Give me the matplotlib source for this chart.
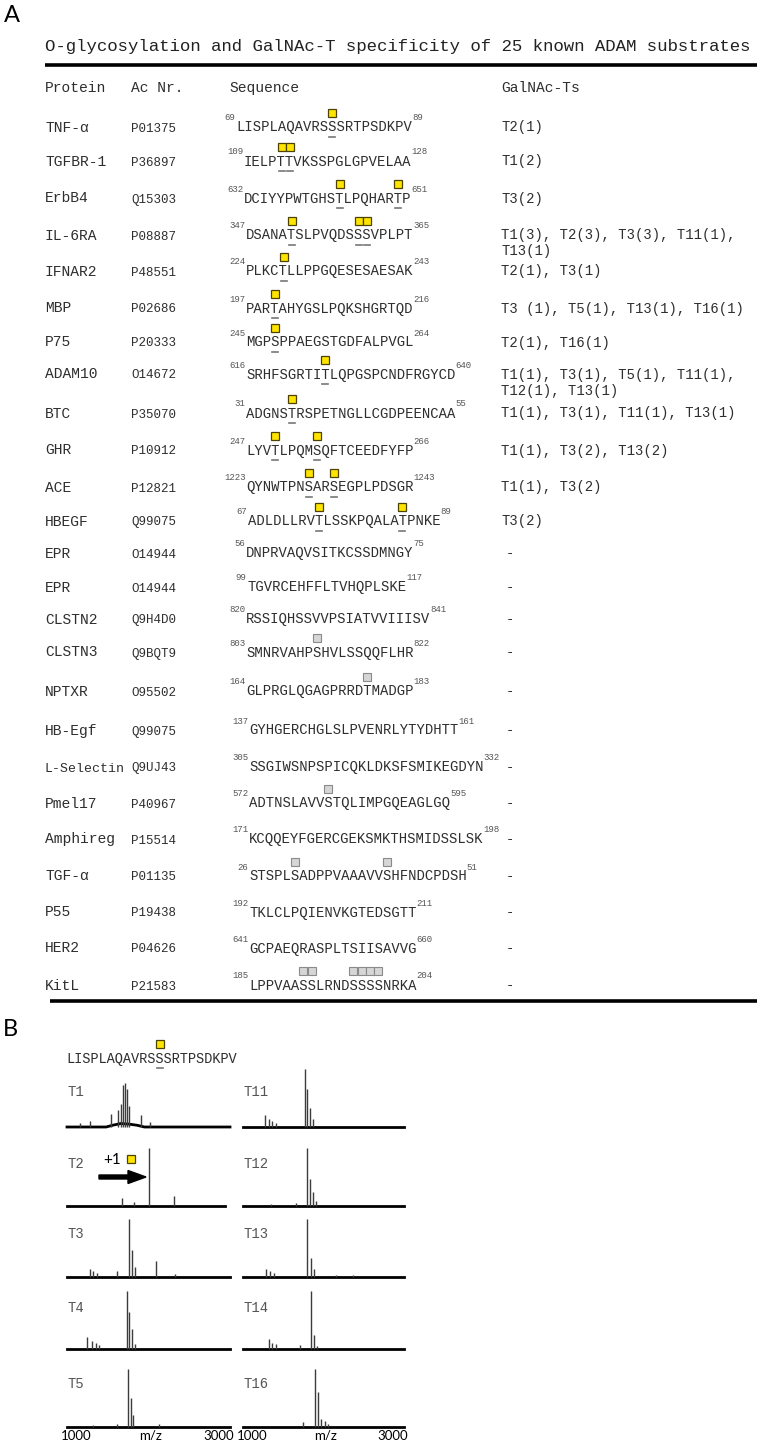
import matplotlib.pyplot as plt
from matplotlib.patches import Rectangle, FancyArrow

# ---- panel A data ----
proteins = ['TNF-α', 'TGFBR-1', 'ErbB4', 'IL-6RA', 'IFNAR2', 'MBP', 'P75', 'ADAM10',
            'BTC', 'GHR', 'ACE', 'HBEGF', 'EPR', 'EPR', 'CLSTN2', 'CLSTN3', 'NPTXR',
            'HB-Egf', 'L-Selectin', 'Pmel17', 'Amphireg', 'TGF-α', 'P55', 'HER2', 'KitL']
accessions = ['P01375', 'P36897', 'Q15303', 'P08887', 'P48551', 'P02686', 'P20333', 'O14672',
              'P35070', 'P10912', 'P12821', 'Q99075', 'O14944', 'O14944', 'Q9H4D0', 'Q9BQT9',
              'O95502', 'Q99075', 'Q9UJ43', 'P40967', 'P15514', 'P01135', 'P19438', 'P04626',
              'P21583']
sequences = ['LISPLAQAVRSSSRTPSDKPV', 'IELPTTVKSSPGLGPVELAA', 'DCIYYPWTGHSTLPQHARTP',
             'DSANATSLPVQDSSSVPLPT', 'PLKCTLLPPGQESESAESAK', 'PARTAHYGSLPQKSHGRTQD',
             'MGPSPPAEGSTGDFALPVGL', 'SRHFSGRTITLQPGSPCNDFRGYCD', 'ADGNSTRSPETNGLLCGDPEENCAA',
             'LYVTLPQMSQFTCEEDFYFP', 'QYNWTPNSARSEGPLPDSGR', 'ADLDLLRVTLSSKPQALATPNKE',
             'DNPRVAQVSITKCSSDMNGY', 'TGVRCEHFFLTVHQPLSKE', 'RSSIQHSSVVPSIATVVIIISV',
             'SMNRVAHPSHVLSSQQFLHR', 'GLPRGLQGAGPRRDTMADGP', 'GYHGERCHGLSLPVENRLYTYDHTT',
             'SSGIWSNPSPICQKLDKSFSMIKEGDYN', 'ADTNSLAVVSTQLIMPGQEAGLGQ',
             'KCQQEYFGERCGEKSMKTHSMIDSSLSK', 'STSPLSADPPVAAAVVSHFNDCPDSH',
             'TKLCLPQIENVKGTEDSGTT', 'GCPAEQRASPLTSIISAVVG', 'LPPVAASSLRNDSSSSNRKA']
seq_start = [69, 109, 632, 347, 224, 197, 245, 616, 31, 247, 1223, 67, 56, 99, 820, 803, 164,
             137, 305, 572, 171, 26, 192, 641, 185]
seq_end = [89, 128, 651, 365, 243, 216, 264, 640, 55, 266, 1243, 89, 75, 117, 841, 822, 183,
           161, 332, 595, 198, 51, 211, 660, 204]
# residues (index in the shown sequence) found O-glycosylated in vitro
found_sites = [[11], [4, 5], [11, 18], [5, 13, 14], [4], [3], [3], [9], [5], [3, 8], [7, 10],
               [8, 18], [], [], [], [], [], [], [], [], [], [], [], [], []]
# residues reported glycosylated but not found
other_sites = [[], [], [], [], [], [], [], [], [], [], [], [], [], [], [], [8], [14], [], [],
               [9], [], [5, 16], [], [], [6, 7, 12, 13, 14, 15]]
galnac_ts = ['T2(1)', 'T1(2)', 'T3(2)', 'T1(3), T2(3), T3(3), T11(1),\nT13(1)', 'T2(1), T3(1)',
             'T3 (1), T5(1), T13(1), T16(1)', 'T2(1), T16(1)',
             'T1(1), T3(1), T5(1), T11(1),\nT12(1), T13(1)', 'T1(1), T3(1), T11(1), T13(1)',
             'T1(1), T3(2), T13(2)', 'T1(1), T3(2)', 'T3(2)'] + ['-'] * 13

# ---- panel B data: MALDI spectra of the TNF-alpha peptide (m/z, % intensity) ----
b_peptide = 'LISPLAQAVRSSSRTPSDKPV'
b_site = 11
spec_names = ['T1', 'T2', 'T3', 'T4', 'T5', 'T11', 'T12', 'T13', 'T14', 'T16']
t1_mz = [1160, 1282, 1540, 1622, 1659, 1687, 1716, 1732, 1757, 1912, 2018]
t1_int = [7, 11, 23, 29, 40, 72, 76, 66, 37, 20, 9]
t1_base_mz = [1000, 1480, 1560, 1660, 1760, 1860, 1950, 3000]
t1_base = [0, 0, 3, 6, 5, 3, 0, 0]
t2_mz = [1678, 1822, 2003, 2313]
t2_int = [13, 7, 100, 17]
t3_mz = [1282, 1323, 1372, 1617, 1761, 1798, 1838, 2096, 2329]
t3_int = [13, 10, 7, 10, 100, 46, 18, 27, 5]
t4_mz = [1249, 1303, 1352, 1396, 1732, 1764, 1801, 1838]
t4_int = [20, 13, 10, 7, 100, 64, 34, 9]
t5_mz = [1323, 1610, 1745, 1782, 1814, 2125]
t5_int = [4, 6, 100, 50, 21, 6]
t11_mz = [1269, 1319, 1364, 1414, 1766, 1799, 1836, 1873]
t11_int = [21, 14, 11, 7, 100, 65, 33, 14]
t12_mz = [1352, 1662, 1799, 1836, 1873, 1907]
t12_int = [4, 6, 100, 47, 24, 9]
t13_mz = [1290, 1339, 1385, 1799, 1840, 1882, 2159, 2366]
t13_int = [13, 10, 7, 100, 32, 14, 4, 4]
t14_mz = [1319, 1364, 1414, 1704, 1848, 1886, 1923]
t14_int = [17, 11, 8, 7, 100, 24, 5]
t16_mz = [1745, 1898, 1936, 1973, 2015, 2056]
t16_int = [9, 100, 60, 14, 10, 6]
scan_end = [3000, 2940, 3000, 3000, 3000, 3000, 3000, 3000, 3000, 3000]

# ---- layout (pixels) ----
W, H = 766, 1440
row_y = [127, 161, 198, 235, 271, 308, 342, 374, 413, 450, 487, 521, 553, 587, 619, 652, 691,
         730, 767, 803, 839, 876, 912, 948, 985]
seq_x = [236, 244, 244, 246, 246, 246, 246, 246, 246, 246, 246, 248, 246, 247, 246, 246, 246,
         249, 249, 249, 249, 249, 249, 249, 249]

MONO = 'Liberation Mono'
SANS = 'Lato'
INK = '#2e2e2e'
SEQ_PT = 10
ADV = SEQ_PT * 0.6 * 100 / 72
SQ = 8

fig = plt.figure(figsize=(W / 100, H / 100), dpi=100)
ax = fig.add_axes([0, 0, 1, 1])
ax.set_xlim(0, W)
ax.set_ylim(H, 0)
ax.axis('off')


def glyco_square(x, y, yellow=True):
    if yellow:
        ax.add_patch(Rectangle((x - SQ / 2, y - SQ / 2), SQ, SQ, facecolor='#ffe400',
                               edgecolor='#4d4300', lw=0.9))
    else:
        ax.add_patch(Rectangle((x - SQ / 2, y - SQ / 2), SQ, SQ, facecolor='#d6d6d6',
                               edgecolor='#8a8a8a', lw=0.8))


def draw_sequence(x, y, seq, fs, sites, others=()):
    adv = fs * 0.6 * 100 / 72
    ax.text(x, y + 4.5, seq, fontsize=fs, family=MONO, color=INK, va='baseline', ha='left')
    for i in sites:
        cx = x + (i + 0.5) * adv
        glyco_square(cx, y - 14)
        ax.plot([cx - 3, cx + 3], [y + 10, y + 10], color='#777777', lw=1.2)
    for i in others:
        glyco_square(x + (i + 0.5) * ADV, y - 14, yellow=False)
    return x + len(seq) * adv


# ---- panel A ----
ax.text(4, 15, 'A', fontsize=17, family=SANS, va='center', ha='left')
ax.text(45, 51, 'O-glycosylation and GalNAc-T specificity of 25 known ADAM substrates',
        fontsize=12.5, family=MONO, color='#222222', va='baseline')
ax.plot([45, 757], [65, 65], color='black', lw=2.6, solid_capstyle='butt')
ax.plot([50, 757], [1001, 1001], color='black', lw=2.6, solid_capstyle='butt')

for hx, htxt in zip([45, 131, 229, 501], ['Protein', 'Ac Nr.', 'Sequence', 'GalNAc-Ts']):
    ax.text(hx, 92, htxt, fontsize=10.5, family=MONO, color=INK, va='baseline')

for k in range(len(proteins)):
    y = row_y[k]
    name_fs = 10.5 if len(proteins[k]) < 9 else 9.5
    ax.text(45, y + 4.5, proteins[k], fontsize=name_fs, family=MONO, color=INK, va='baseline')
    ax.text(131, y + 4.5, accessions[k], fontsize=9, family=MONO, color=INK, va='baseline')
    x_end = draw_sequence(seq_x[k], y, sequences[k], SEQ_PT, found_sites[k], other_sites[k])
    ax.text(seq_x[k] - 0.5, y - 6.5, str(seq_start[k]), fontsize=6.5, family=MONO,
            color='#555555', ha='right', va='baseline')
    ax.text(x_end + 1, y - 6.5, str(seq_end[k]), fontsize=6.5, family=MONO,
            color='#555555', ha='left', va='baseline')
    gx = 501 if galnac_ts[k] != '-' else 506
    for j, line in enumerate(galnac_ts[k].split('\n')):
        ax.text(gx, y + 4.5 + j * 16, line, fontsize=10, family=MONO, color=INK,
                va='baseline')

# ---- panel B ----
ax.text(3, 1029, 'B', fontsize=17, family=SANS, va='center', ha='left')
draw_sequence(66, 1058, b_peptide, 9.8, [b_site])

spec_mz = [t1_mz, t2_mz, t3_mz, t4_mz, t5_mz, t11_mz, t12_mz, t13_mz, t14_mz, t16_mz]
spec_int = [t1_int, t2_int, t3_int, t4_int, t5_int, t11_int, t12_int, t13_int, t14_int, t16_int]
col_x = [(67, 230), (243, 404)]
base_y = [1127, 1206, 1277, 1349, 1427]
label_y = [1092, 1163, 1233, 1308, 1383]

for n, name in enumerate(spec_names):
    col, r = divmod(n, 5)
    x0, x1 = col_x[col]
    sax = fig.add_axes([x0 / W, 1 - base_y[r] / H, (x1 - x0) / W, 58 / H])
    sax.set_xlim(1000, 3000)
    sax.set_ylim(0, 100)
    sax.axis('off')
    if name == 'T1':
        sax.plot(t1_base_mz, t1_base, color='black', lw=2.0, clip_on=False)
    else:
        sax.plot([1000, scan_end[n]], [0, 0], color='black', lw=2.0, clip_on=False)
    sax.vlines(spec_mz[n], 0, spec_int[n], color='#3c3c3c', lw=1.0, clip_on=False)
    ax.text(x0 + 1, label_y[r] + 4.5, name, fontsize=10, family=MONO, color='#555555',
            va='baseline')

# shift annotation in T2
ax.add_patch(FancyArrow(99, 1177, 47, 0, width=4, head_width=13, head_length=18,
                        length_includes_head=True, color='black'))
ax.text(103, 1160, '+1', fontsize=11, family=SANS, va='center', ha='left')
glyco_square(130.5, 1159)

# m/z axis labels
for x0, x1 in col_x:
    ax.text(x0 - 6, 1436, '1000', fontsize=9.5, family=SANS, va='center', ha='left')
    ax.text((x0 + x1) / 2 + 2, 1436, 'm/z', fontsize=9.5, family=SANS, va='center',
            ha='center')
    ax.text(x1 + 4, 1436, '3000', fontsize=9.5, family=SANS, va='center', ha='right')

fig.savefig('out.png', dpi=100)
